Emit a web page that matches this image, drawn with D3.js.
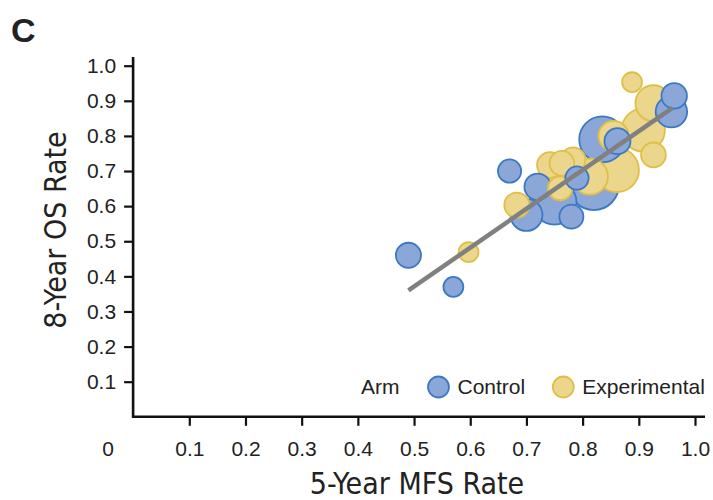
<!DOCTYPE html>
<html>
<head>
<meta charset="utf-8">
<script src="https://cdn.jsdelivr.net/npm/d3@7"></script>
<style>
  body { margin: 0; background: #fff; }
  text { fill: #222; }
</style>
</head>
<body>
<div id="chart"></div>
<script>
// Trial-level data (drawing order kept as listed)
const arm = ['Control', 'Experimental', 'Control', 'Control', 'Control', 'Experimental', 'Experimental',
  'Experimental', 'Control', 'Experimental', 'Control', 'Experimental', 'Control', 'Experimental', 'Control',
  'Control', 'Experimental', 'Control', 'Experimental', 'Experimental', 'Experimental', 'Experimental',
  'Control', 'Control', 'Control', 'Experimental', 'Experimental', 'Control'];
const mfs = [0.82, 0.861, 0.835, 0.75, 0.925, 0.908, 0.926, 0.813, 0.70, 0.855, 0.958, 0.742, 0.72,
  0.683, 0.862, 0.963, 0.926, 0.49, 0.783, 0.763, 0.76, 0.76, 0.78, 0.79, 0.67, 0.597, 0.888, 0.57];
const os = [0.66, 0.703, 0.79, 0.61, 0.874, 0.817, 0.893, 0.684, 0.575, 0.80, 0.869, 0.717, 0.655,
  0.603, 0.785, 0.914, 0.746, 0.46, 0.732, 0.722, 0.651, 0.651, 0.57, 0.68, 0.70, 0.469, 0.953, 0.37];
const patients = [1390, 1080, 1180, 1080, 570, 1040, 720, 720, 570, 500, 550, 375, 390,
  350, 375, 360, 340, 350, 340, 340, 320, 320, 320, 300, 300, 220, 220, 220];

// Fitted line end points
const fitX = [0.49, 0.96];
const fitY = [0.36, 0.88];

const ticks = [0.1, 0.2, 0.3, 0.4, 0.5, 0.6, 0.7, 0.8, 0.9, 1.0];
const arms = ['Control', 'Experimental'];

const width = 713, height = 500;

const svg = d3.select('#chart')
  .append('svg')
  .attr('width', width)
  .attr('height', height);

const x = d3.scaleLinear().domain([0, 1]).range([133.1, 695]);
const y = d3.scaleLinear().domain([0, 1]).range([416.8, 65.7]);
const r = d3.scaleSqrt().domain([0, 2000]).range([0, 30]);

const fill = d3.scaleOrdinal().domain(arms).range(['#8ba7d8', '#ecd68c']);
const stroke = d3.scaleOrdinal().domain(arms).range(['#3b79c3', '#dfbf48']);

const tickFont = '"Liberation Sans", Arial, sans-serif';
const tickSize = '21px';
const titleFont = '"DejaVu Sans Condensed", "Liberation Sans Narrow", sans-serif';

// X axis
const gx = svg.append('g')
  .attr('transform', `translate(0,${y(0)})`)
  .call(d3.axisBottom(x).tickValues(ticks).tickSize(9).tickPadding(15).tickFormat(d3.format('.1f')));
gx.select('.domain').remove();
gx.selectAll('line').attr('stroke', '#111').attr('stroke-width', 2.2);
gx.selectAll('text').style('font-family', tickFont).style('font-size', tickSize).attr('fill', '#222');

// Y axis
const gy = svg.append('g')
  .attr('transform', `translate(${x(0)},0)`)
  .call(d3.axisLeft(y).tickValues(ticks).tickSize(9).tickPadding(8).tickFormat(d3.format('.1f')));
gy.select('.domain').remove();
gy.selectAll('line').attr('stroke', '#111').attr('stroke-width', 2.2);
gy.selectAll('text').style('font-family', tickFont).style('font-size', tickSize).attr('fill', '#222');

// axis lines
svg.append('path')
  .attr('d', `M${x(0)},57V${y(0)}H705`)
  .attr('fill', 'none')
  .attr('stroke', '#111')
  .attr('stroke-width', 2.6);

// shared origin label
svg.append('text')
  .attr('x', 108).attr('y', y(0) + 24)
  .attr('dy', '0.71em')
  .attr('text-anchor', 'middle')
  .style('font-family', tickFont).style('font-size', tickSize)
  .text('0');

// bubbles
const pts = arm.map((a, i) => ({ arm: a, mfs: mfs[i], os: os[i], n: patients[i] }));
svg.append('g')
  .selectAll('circle')
  .data(pts)
  .join('circle')
  .attr('cx', d => x(d.mfs))
  .attr('cy', d => y(d.os))
  .attr('r', d => r(d.n))
  .attr('fill', d => fill(d.arm))
  .attr('stroke', d => stroke(d.arm))
  .attr('stroke-width', 1.8);

// regression line
svg.append('path')
  .datum(fitX.map((v, i) => [v, fitY[i]]))
  .attr('d', d3.line().x(d => x(d[0])).y(d => y(d[1])))
  .attr('stroke', '#808080')
  .attr('stroke-width', 4.5)
  .attr('fill', 'none');

// legend
const legend = svg.append('g').style('font-family', tickFont).style('font-size', tickSize);
legend.append('text').attr('x', 361).attr('y', 394).text('Arm');
const legendX = [438.5, 563.3];
arms.forEach((a, i) => {
  legend.append('circle')
    .attr('cx', legendX[i]).attr('cy', 387).attr('r', 10.5)
    .attr('fill', fill(a)).attr('stroke', stroke(a)).attr('stroke-width', 1.8);
  legend.append('text').attr('x', legendX[i] + 19).attr('y', 394).text(a);
});

// axis titles
svg.append('text')
  .attr('x', 417).attr('y', 494)
  .attr('text-anchor', 'middle')
  .style('font-family', titleFont).style('font-size', '30px')
  .text('5-Year MFS Rate');

svg.append('text')
  .attr('transform', 'translate(66,230) rotate(-90)')
  .attr('text-anchor', 'middle')
  .style('font-family', titleFont).style('font-size', '30px')
  .text('8-Year OS Rate');

// panel letter
svg.append('text')
  .attr('x', 11).attr('y', 42)
  .style('font-family', '"Liberation Sans", Arial, sans-serif')
  .style('font-size', '34px').style('font-weight', 'bold')
  .attr('fill', '#111')
  .text('C');
</script>
</body>
</html>
